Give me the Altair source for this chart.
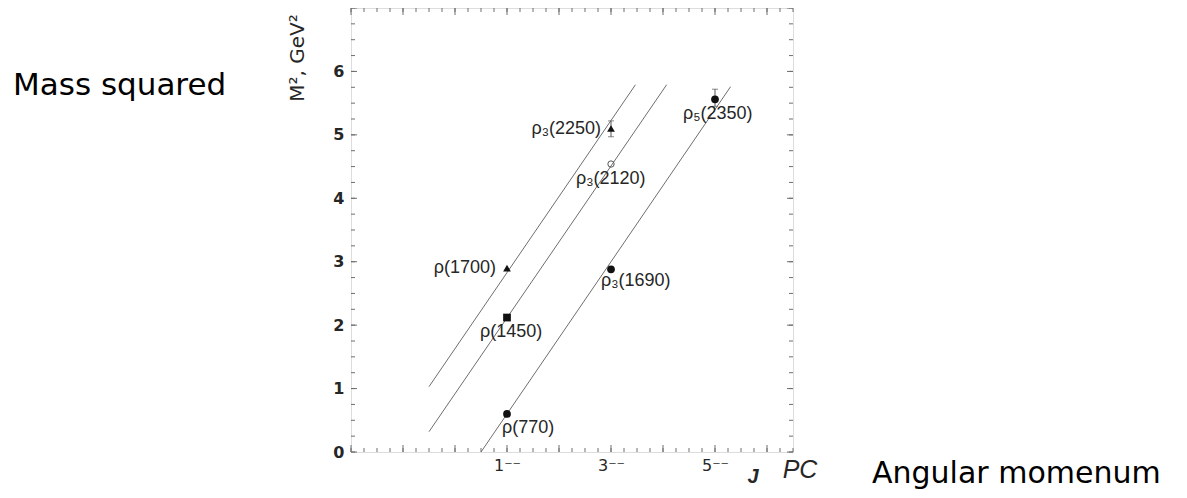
import altair as alt
import pandas as pd
import numpy as np

# ---- data ----
names = ["ρ(770)", "ρ(1450)", "ρ(1700)", "ρ₃(1690)", "ρ₃(2120)", "ρ₃(2250)", "ρ₅(2350)"]
j_vals = [1, 1, 1, 3, 3, 3, 5]
m2_vals = [0.60, 2.12, 2.90, 2.88, 4.54, 5.10, 5.56]
shapes = ["circle", "square", "triangle-up", "circle", "circle", "triangle-up", "circle"]
filled = [True, True, True, True, False, True, True]
# label offsets (pixels) and alignment
lab_dx = [-5, -27, -11, -10, -35, -10, -32]
lab_dy = [14, 14, 0, 12, 15, 0, 15]
lab_align = ["left", "left", "right", "left", "left", "right", "left"]

err_names = ["ρ₃(2250)", "ρ₅(2350)"]
err_j = [3, 5]
err_lo = [4.97, 5.45]
err_hi = [5.22, 5.72]

traj_j0 = [-0.5, -0.5, 0.5]
traj_m0 = [1.03, 0.32, 0.0]
traj_j1 = [3.47, 4.07, 5.30]
traj_m1 = [5.79, 5.79, 5.76]

x_major = list(range(-2, 7))
x_minor = list(np.arange(-2, 6.51, 0.25))
y_major = list(range(0, 8))
y_minor = list(np.arange(0, 7.01, 0.25))
x_labels = [1, 3, 5]
y_labels = [0, 1, 2, 3, 4, 5, 6]

W, H = 442, 444
XDOM = [-2, 6.5]
YDOM = [0, 7]
INK = "#262626"
LINE = "#6e6e6e"

xs = alt.Scale(domain=XDOM, nice=False, zero=False)
ys = alt.Scale(domain=YDOM, nice=False, zero=False)

pts = pd.DataFrame({"name": names, "J": j_vals, "M2": m2_vals, "shape": shapes,
                    "filled": filled})
traj = pd.DataFrame({"j0": traj_j0, "m0": traj_m0, "j1": traj_j1, "m1": traj_m1})
errs = pd.DataFrame({"name": err_names, "J": err_j, "lo": err_lo, "hi": err_hi})

# axes (labels only), first layer
axis_layer = alt.Chart(pd.DataFrame({"J": [XDOM[0]], "M2": [YDOM[0]]})).mark_point(opacity=0).encode(
    x=alt.X("J:Q", scale=xs, title=None,
            axis=alt.Axis(values=x_labels, labelExpr="datum.value + '⁻⁻'", domain=False, ticks=False,
                          grid=False, labelPadding=5, labelFontSize=16, labelColor=INK,
                          labelFont="DejaVu Sans")),
    y=alt.Y("M2:Q", scale=ys, title=None,
            axis=alt.Axis(values=y_labels, format="d", domain=False, ticks=False, grid=False,
                          labelPadding=7, labelFontSize=16, labelFontWeight="bold", labelColor=INK,
                          labelFont="DejaVu Sans")),
)

def xticks(vals, length):
    d = pd.DataFrame({"v": vals})
    bottom = alt.Chart(d).mark_rule(color=LINE, strokeWidth=1).encode(
        x=alt.X("v:Q", scale=xs), y=alt.value(H), y2=alt.value(H - length))
    top = alt.Chart(d).mark_rule(color=LINE, strokeWidth=1).encode(
        x=alt.X("v:Q", scale=xs), y=alt.value(0), y2=alt.value(length))
    return [bottom, top]

def yticks(vals, length):
    d = pd.DataFrame({"v": vals})
    left = alt.Chart(d).mark_rule(color=LINE, strokeWidth=1).encode(
        y=alt.Y("v:Q", scale=ys), x=alt.value(0), x2=alt.value(length))
    right = alt.Chart(d).mark_rule(color=LINE, strokeWidth=1).encode(
        y=alt.Y("v:Q", scale=ys), x=alt.value(W), x2=alt.value(W - length))
    return [left, right]

tick_layers = xticks(x_minor, 4) + xticks(x_major, 7) + yticks(y_minor, 4) + yticks(y_major, 6)

lines = alt.Chart(traj).mark_rule(color=LINE, strokeWidth=1).encode(
    x=alt.X("j0:Q", scale=xs), y=alt.Y("m0:Q", scale=ys), x2="j1:Q", y2="m1:Q")

err_rule = alt.Chart(errs).mark_rule(color="#555", strokeWidth=1).encode(
    x=alt.X("J:Q", scale=xs), y=alt.Y("lo:Q", scale=ys), y2="hi:Q")
err_cap_lo = alt.Chart(errs).mark_tick(color="#555", orient="horizontal", size=6, thickness=1).encode(
    x=alt.X("J:Q", scale=xs), y=alt.Y("lo:Q", scale=ys))
err_cap_hi = alt.Chart(errs).mark_tick(color="#555", orient="horizontal", size=6, thickness=1).encode(
    x=alt.X("J:Q", scale=xs), y=alt.Y("hi:Q", scale=ys))

shape_scale = alt.Scale(domain=["circle", "square", "triangle-up"], range=["circle", "square", "triangle-up"])
filled_pts = alt.Chart(pts).transform_filter("datum.filled").mark_point(
    filled=True, color="#111", opacity=1, size=60).encode(
    x=alt.X("J:Q", scale=xs), y=alt.Y("M2:Q", scale=ys),
    shape=alt.Shape("shape:N", scale=shape_scale, legend=None))
open_pts = alt.Chart(pts).transform_filter("!datum.filled").mark_point(
    filled=False, color="#555", opacity=1, size=40, strokeWidth=1).encode(
    x=alt.X("J:Q", scale=xs), y=alt.Y("M2:Q", scale=ys),
    shape=alt.Shape("shape:N", scale=shape_scale, legend=None))

label_layers = []
for i in range(len(names)):
    d = pts.iloc[[i]]
    label_layers.append(
        alt.Chart(d).mark_text(align=lab_align[i], baseline="middle", dx=lab_dx[i], dy=lab_dy[i],
                               font="Liberation Sans", fontSize=18, color=INK).encode(
            x=alt.X("J:Q", scale=xs), y=alt.Y("M2:Q", scale=ys), text="name:N"))

def annot(text, x, y, size, font="DejaVu Sans", style="normal", angle=0, align="center",
          weight="normal", color="#000", baseline="alphabetic"):
    kw = dict(align=align, baseline=baseline, font=font, fontSize=size, fontStyle=style,
              fontWeight=weight, color=color)
    if angle:
        kw["angle"] = angle
    return alt.Chart(pd.DataFrame({"t": [text]})).mark_text(**kw).encode(
        x=alt.value(x), y=alt.value(y), text="t:N")

annots = [
    annot("Mass squared", -338, 87, 31, align="left"),
    annot("Angular momenum", 521, 475, 30, align="left"),
    annot("M², GeV²", -53, 50, 20, angle=270, color=INK, baseline="middle"),
    annot("J", 402, 475, 20, font="Liberation Sans", style="italic", weight="bold", color=INK),
    annot("PC", 449, 470, 25, font="Liberation Sans", style="italic", color=INK),
]

chart = alt.layer(axis_layer, *tick_layers, lines, err_rule, err_cap_lo, err_cap_hi,
                  filled_pts, open_pts, *label_layers, *annots).properties(
    width=W, height=H, autosize="none",
    padding={"left": 343, "top": 0, "right": 386, "bottom": 38},
).configure_view(stroke="#444", strokeWidth=1.2).configure(background="white")

chart.save("out.html", embed_options={"renderer": "svg", "actions": False})
